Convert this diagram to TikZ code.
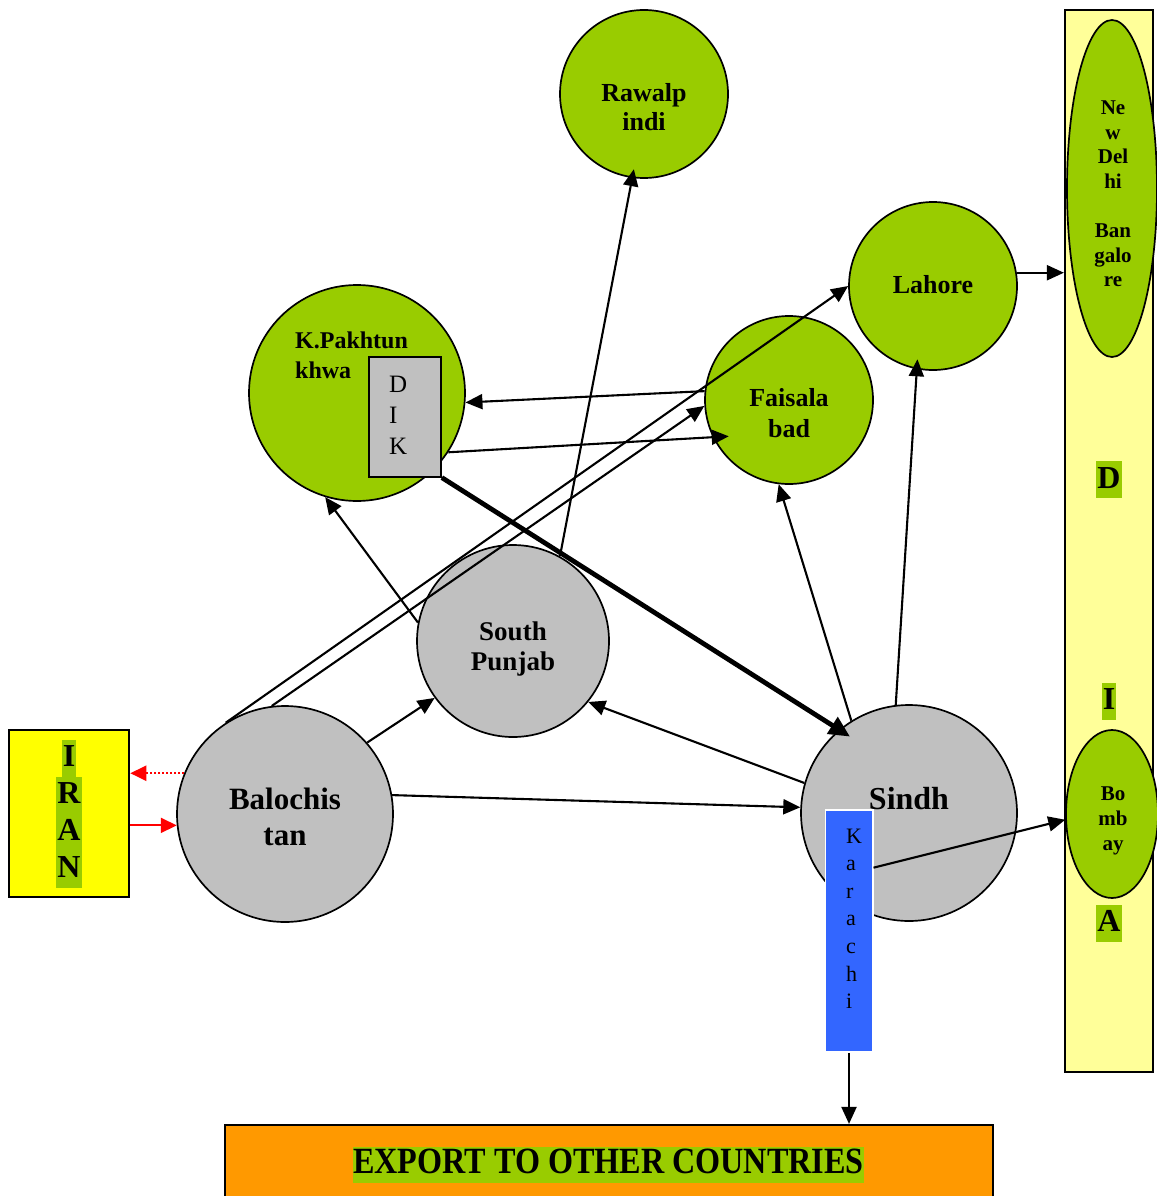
\documentclass[tikz,border=0pt]{standalone}
\usepackage{fontspec}
\setmainfont{Liberation Serif}
\usepackage{tikz}
\usetikzlibrary{arrows.meta,shapes.geometric,calc}
\usepackage{xcolor}
\definecolor{leaf}{HTML}{99CC00}
\definecolor{stone}{HTML}{C0C0C0}
\definecolor{sun}{HTML}{FFFF00}
\definecolor{cream}{HTML}{FFFF99}
\definecolor{amber}{HTML}{FF9900}
\definecolor{sea}{HTML}{3366FF}

\begin{document}
\begin{tikzpicture}[x=1pt, y=-1pt,
  greencity/.style={circle, draw, line width=1.7pt, fill=leaf, inner sep=0pt},
  graycity/.style={circle, draw, line width=1.7pt, fill=stone, inner sep=0pt},
  cityname/.style 2 args={align=center, inner sep=0pt, font=\bfseries\fontsize{#1}{#2}\selectfont},
  hilite/.style={fill=leaf, inner ysep=0pt, inner xsep=1pt, text height=27pt, text depth=10pt, font=\bfseries\fontsize{32}{37}\selectfont},
  link/.style={line width=2.1pt, -{Triangle[length=17pt,width=15pt]}},
  redlink/.style={red, line width=2.1pt, -{Triangle[length=16pt,width=15pt]}}
]
\useasboundingbox[fill=white] (0,0) rectangle (1156,1196);

\node[draw, line width=2.2pt, fill=cream, minimum width=88pt, minimum height=1062pt, inner sep=0pt] (ind) at (1109,541) {};
\node[ellipse, draw, line width=1.7pt, fill=leaf, minimum width=90pt, minimum height=337pt, inner sep=0pt] (del) at (1112,188.5) {};
\node[cityname={21}{24.6}] (deltext) at (1113,194) {Ne\\w\\Del\\hi\\[24.6pt]Ban\\galo\\re};
\node[ellipse, draw, line width=1.7pt, fill=leaf, minimum width=92pt, minimum height=168pt, inner sep=0pt] (bom) at (1112,814) {};
\node[cityname={21}{24.7}] (bomtext) at (1113,821) {Bo\\mb\\ay};
\node[hilite] (indD) at (1109,479.5) {D};
\node[hilite] (indI) at (1109,701) {I};
\node[hilite] (indA) at (1109,923) {A};

\node[draw, line width=2.6pt, fill=sun, minimum width=120pt, minimum height=167pt] (iran) at (69,813.5) {};
\foreach \ch [count=\i] in {I,R,A,N}
  \node[hilite] (iran\i) at (69,{721+37*\i}) {\ch};

\node[greencity, minimum size=168pt] (raw) at (644,94) {};
\node[cityname={26}{29}] (rawtext) at (644,107.5) {Rawalp\\indi};
\node[greencity, minimum size=168pt] (lah) at (933,286) {};
\node[cityname={26}{30}] (lahtext) at (933,284.5) {Lahore};
\node[greencity, minimum size=168pt] (fai) at (789,400) {};
\node[cityname={26}{30.5}] (faitext) at (789,413) {Faisala\\bad};
\node[greencity, minimum size=216pt] (kpk) at (357,393) {};
\node[cityname={24}{29.5}, align=left, anchor=north west] (kpktext) at (295,332) {K.Pakhtun\\khwa};
\node[draw, line width=1.7pt, fill=stone, minimum width=72pt, minimum height=119.5pt] (dik) at (405,417) {};
\foreach \ch [count=\i from 0] in {D,I,K}
  \node[anchor=base west, inner sep=0pt, font=\fontsize{25}{30}\selectfont] (dik\i) at (389,{392.7+30.7*\i}) {\ch};

\node[graycity, minimum size=192pt] (sp) at (513,641) {};
\node[cityname={27}{30}] (sptext) at (513,649) {South\\Punjab};
\node[graycity, minimum size=216pt] (bal) at (285,814) {};
\node[cityname={31}{36}] (baltext) at (285,817) {Balochis\\tan};
\node[graycity, minimum size=216pt] (sin) at (909,813) {};
\node[cityname={32}{36}] (sintext) at (909,798.5) {Sindh};
\node[draw=white, line width=1.5pt, fill=sea, minimum width=47.5pt, minimum height=242pt, inner sep=0pt] (kar) at (849,931) {};
\foreach \ch [count=\i from 0] in {K,a,r,a,c,h,i}
  \node[anchor=base west, inner sep=0pt, font=\fontsize{22}{26}\selectfont] (kar\i) at (846,{843+27.6*\i}) {\ch};

\node[draw, line width=2.2pt, fill=amber, minimum width=768pt, minimum height=84pt] (exp) at (609,1167) {};
\node[fill=leaf, inner sep=0pt, text height=27pt, text depth=9pt, xscale=0.87, transform shape, font=\bfseries\fontsize{37}{40}\selectfont] (exptext) at (608.5,1164.5) {EXPORT TO OTHER COUNTRIES};

\draw[link] (bal.41) -- (sp.216);
\draw[link] (bal.10) -- (sin.177);
\draw[link] (bal.123) -- (lah.west);
\draw[link] (bal.97) -- (fai.184);
\draw[link] (sp.169) -- (kpk.253);
\draw[link, shorten >=-9pt] (sp.61) -- (raw.262);
\draw[link] (sin.164) -- (sp.321);
\draw[link] (sin.122) -- (fai.263);
\draw[link, shorten >=-10pt] (sin.97) -- (lah.259);
\draw[link] (fai.174) -- (kpk.355);
\draw[link, shorten >=-16pt] (kpk.327) -- (fai.206);
\draw[line width=4.8pt, -{Triangle[length=21pt,width=19pt]}, shorten >=-13pt] (dik.south east) -- (sin.130);
\draw[link] (lah.9) -- (lah.9 -| ind.west);
\draw[link] ($(kar.north east)!0.24!(kar.south east)$) -- (bom.187);
\draw[link] (kar.south) -- (kar.south |- exp.north);
\draw[redlink, dash pattern=on 2pt off 2pt] (bal.158) -- (bal.158 -| iran.east);
\draw[redlink] (bal.186 -| iran.east) -- (bal.186);
\end{tikzpicture}
\end{document}
